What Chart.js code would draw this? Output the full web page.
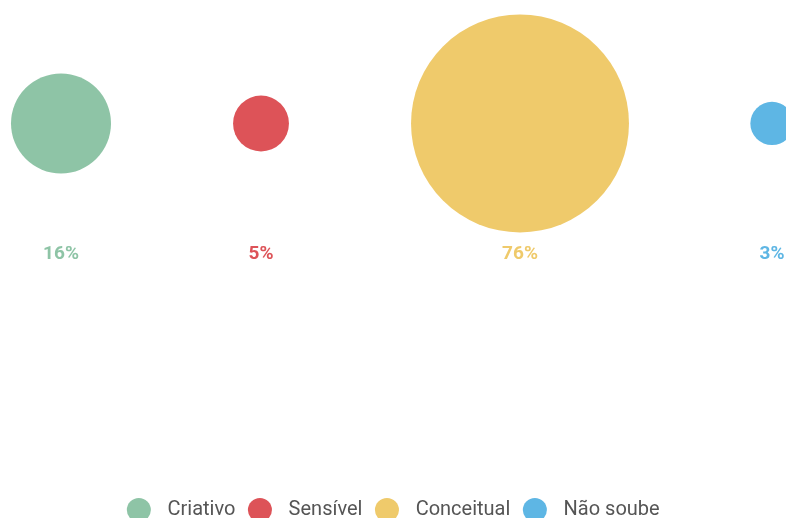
<!DOCTYPE html>
<html>
<head>
<meta charset="utf-8">
<script src="https://cdn.jsdelivr.net/npm/chart.js@4"></script>
<style>
  html, body { margin: 0; padding: 0; background: #fff; }
  #wrap { width: 786px; height: 518px; }
</style>
</head>
<body>
<div id="wrap"><canvas id="myChart"></canvas></div>
<script>
var categories = ['Criativo', 'Sensível', 'Conceitual', 'Não soube'];
var percents = [16, 5, 76, 3];
var positions = [0.61, 2.61, 5.2, 7.72];
var colors = ['#8ec4a6', '#dd5358', '#efca6b', '#5eb6e4'];

var datasets = categories.map(function (name, i) {
    return {
        label: name,
        data: [{ x: positions[i], y: 0, v: percents[i] }],
        backgroundColor: colors[i],
        borderWidth: 0,
        hoverBorderWidth: 0,
        radius: function (c) { return 12.5 * Math.sqrt(c.raw.v); }
    };
});

// percent labels under each bubble
var percentLabels = {
    id: 'percentLabels',
    afterDatasetsDraw: function (chart) {
        var ctx = chart.ctx;
        ctx.save();
        ctx.font = 'bold 19px Roboto';
        ctx.textAlign = 'center';
        ctx.textBaseline = 'middle';
        chart.data.datasets.forEach(function (ds, i) {
            var el = chart.getDatasetMeta(i).data[0];
            ctx.fillStyle = colors[i];
            ctx.fillText(percents[i] + '%', el.x, el.y + 131);
        });
        ctx.restore();
    }
};

var ctx = document.getElementById('myChart').getContext('2d');
var myChart = new Chart(ctx, {
    type: 'bubble',
    data: { datasets: datasets },
    options: {
        responsive: true,
        maintainAspectRatio: false,
        animation: false,
        clip: false,
        layout: { autoPadding: false, padding: { top: 0, left: 4, right: 0, bottom: -12 } },
        plugins: {
            legend: {
                position: 'bottom',
                labels: {
                    usePointStyle: true,
                    pointStyle: 'circle',
                    boxWidth: 17,
                    boxHeight: 17,
                    font: { family: 'Roboto', size: 20 },
                    color: '#555',
                    padding: 16,
                    generateLabels: function (chart) {
                        var items = Chart.defaults.plugins.legend.labels.generateLabels(chart);
                        items.forEach(function (it) {
                            it.text = '\u2002' + it.text;
                            it.lineWidth = 0;
                        });
                        return items;
                    }
                }
            },
            tooltip: { enabled: false }
        },
        scales: {
            x: { display: false, min: 0.04, max: 7.86 },
            y: { display: false, min: -2.92, max: 1 }
        }
    },
    plugins: [percentLabels]
});
</script>
</body>
</html>
